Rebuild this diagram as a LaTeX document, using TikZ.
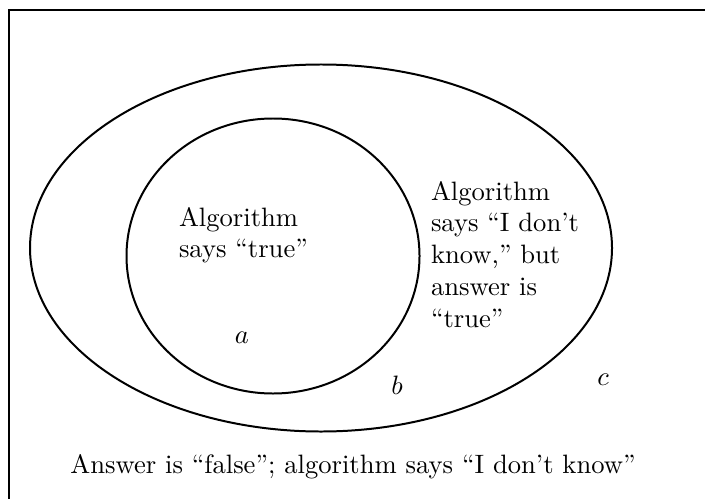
\documentclass[tikz,border=0pt]{standalone}
\usetikzlibrary{shapes.geometric}
\begin{document}
\begin{tikzpicture}[x=0.376pt,y=-0.376pt,line width=0.75pt,
  lbl/.style={inner sep=0pt,align=left,anchor=north west}]
\useasboundingbox (0,0) rectangle (705,498);
\draw (9,10) rectangle (760,560);
\node[draw,ellipse,minimum width=582*0.376pt,minimum height=367*0.376pt,inner sep=0pt] (outer) at (321,248) {};
\node[draw,ellipse,minimum width=293*0.376pt,minimum height=275*0.376pt,inner sep=0pt] (inner) at (273,256) {};
\node[lbl] (t1) at (178,206) {Algorithm\\says ``true''};
\node[lbl] (t2) at (430,180) {Algorithm\\says ``I don't\\know,'' but\\answer is\\``true''};
\node (a) at (242,338) {$a$};
\node (b) at (397,385) {$b$};
\node (c) at (603,380) {$c$};
\node (bot) at (353,467) {Answer is ``false''; algorithm says ``I don't know''};
\end{tikzpicture}
\end{document}
